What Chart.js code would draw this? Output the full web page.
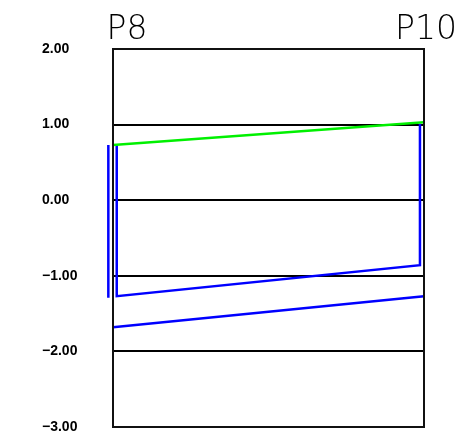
<!DOCTYPE html>
<html>
<head>
<meta charset="utf-8">
<script src="https://cdn.jsdelivr.net/npm/chart.js@4.4.0/dist/chart.umd.min.js"></script>
<style>
  html, body { margin: 0; padding: 0; background: #fff; }
  .chart-container { position: relative; width: 461px; height: 439px; }
</style>
</head>
<body>
<div class="chart-container"><canvas id="chart"></canvas></div>
<script>
// stations along the profile (x in percent of the section length)
const stations = ['P8', 'P10'];
const stationX = [0, 100];

// y range and ticks
const yMin = -3;
const yMax = 2;
const yStep = 1;

// green line
const greenX = [0, 100];
const greenY = [0.73, 1.03];

// blue lines
const blueAX = [1.2, 1.2, 98.7, 98.7];
const blueAY = [0.73, -1.27, -0.86, 1.01];
const blueBX = [-1.5, -1.5];
const blueBY = [0.73, -1.29];
const blueCX = [0, 100, 101.6, 101.6];
const blueCY = [-1.68, -1.27, -1.27, 1.04];

function pts(xs, ys) {
  return xs.map((x, i) => ({ x: x, y: ys[i] }));
}

function lineSet(xs, ys, color) {
  return {
    data: pts(xs, ys),
    borderColor: color,
    borderWidth: 2.5,
    pointRadius: 0,
    tension: 0,
    fill: false,
    clip: false
  };
}

// frame around the plot area and station names on top
const framePlugin = {
  id: 'frame',
  afterDraw(chart) {
    const ctx = chart.ctx;
    const a = chart.chartArea;
    const xs = chart.scales.x;
    ctx.save();
    ctx.strokeStyle = '#111';
    ctx.lineWidth = 2;
    ctx.strokeRect(a.left, a.top, a.right - a.left, a.bottom - a.top);
    ctx.fillStyle = '#000';
    ctx.font = '200 33px "DejaVu Sans"';
    ctx.textAlign = 'center';
    ctx.textBaseline = 'alphabetic';
    const shift = [14, 2];
    stations.forEach((s, i) => {
      ctx.fillText(s, xs.getPixelForValue(stationX[i]) + shift[i], 39);
    });
    ctx.restore();
  }
};

const ctx = document.getElementById('chart').getContext('2d');
new Chart(ctx, {
  type: 'line',
  data: {
    datasets: [
      lineSet(greenX, greenY, '#00f000'),
      lineSet(blueAX, blueAY, '#0000ff'),
      lineSet(blueBX, blueBY, '#0000ff'),
      lineSet(blueCX, blueCY, '#0000ff')
    ]
  },
  options: {
    responsive: true,
    maintainAspectRatio: false,
    animation: false,
    layout: { padding: { left: 42, top: 49, right: 37, bottom: 12 } },
    plugins: {
      legend: { display: false },
      tooltip: { enabled: false }
    },
    scales: {
      x: {
        type: 'linear',
        display: false,
        min: stationX[0],
        max: stationX[stationX.length - 1]
      },
      y: {
        min: yMin,
        max: yMax,
        afterFit(scale) { scale.width = 71; },
        grid: { color: '#000', lineWidth: 2, drawTicks: false },
        border: { display: false },
        ticks: {
          stepSize: yStep,
          crossAlign: 'far',
          color: '#000',
          font: { family: 'Liberation Sans', size: 14, weight: 'bold' },
          callback: v => v.toFixed(2).replace('-', '\u2212')
        }
      }
    }
  },
  plugins: [framePlugin]
});
</script>
</body>
</html>
